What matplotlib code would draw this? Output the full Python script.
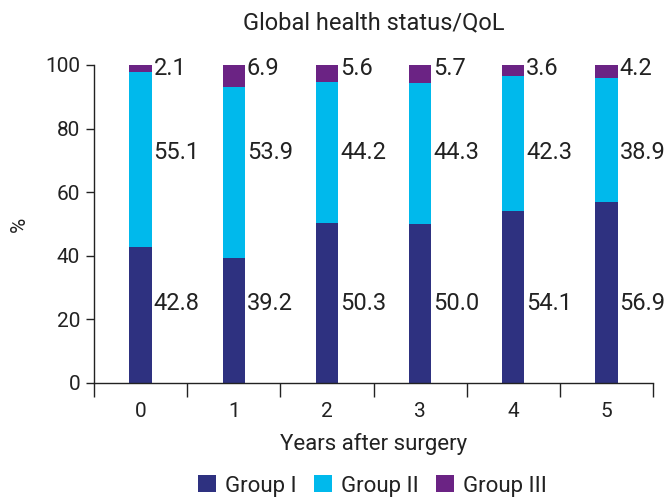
import matplotlib.pyplot as plt
import numpy as np
from matplotlib.ticker import FixedLocator

years = ['0', '1', '2', '3', '4', '5']
group_1 = [42.8, 39.2, 50.3, 50.0, 54.1, 56.9]
group_2 = [55.1, 53.9, 44.2, 44.3, 42.3, 38.9]
group_3 = [2.1, 6.9, 5.6, 5.7, 3.6, 4.2]
group_names = ['Group I', 'Group II', 'Group III']

COLORS = ['#2e3180', '#00b9ec', '#6b2384']
TEXT = '#222222'
LABEL_Y = [25, 72.5, 99]  # label heights, fixed like in the original

plt.rcParams['font.family'] = ['Roboto', 'DejaVu Sans']

fig = plt.figure(figsize=(6.65, 4.98), dpi=100)
ax = fig.add_axes([0.1414, 0.231, 0.8406, 0.6385])

x = np.arange(len(years))
width = 0.24
bottom = np.zeros(len(years))
for vals, color, name, ly in zip([group_1, group_2, group_3], COLORS, group_names, LABEL_Y):
    ax.bar(x, vals, width, bottom=bottom, color=color, label=name)
    for xi, v in zip(x, vals):
        ax.text(xi + width / 2 + 0.02, ly, f'{v:.1f}', ha='left', va='center',
                fontsize=17, color=TEXT, clip_on=False)
    bottom += np.array(vals)

ax.set_xlim(-0.5, len(years) - 0.5)
ax.set_ylim(0, 100)
ax.set_yticks([0, 20, 40, 60, 80, 100])
ax.tick_params(axis='y', labelsize=15, colors=TEXT, length=6, width=1, pad=4)

# category boundaries get the tick marks, labels sit in between
ax.xaxis.set_major_locator(FixedLocator(np.arange(-0.5, len(years), 1.0)))
ax.xaxis.set_minor_locator(FixedLocator(x))
ax.set_xticklabels([])
ax.set_xticklabels(years, minor=True)
ax.tick_params(axis='x', which='major', length=10, width=1, colors=TEXT)
ax.tick_params(axis='x', which='minor', length=0, labelsize=15, labelcolor=TEXT, pad=14)

for s in ['top', 'right']:
    ax.spines[s].set_visible(False)
for s in ['left', 'bottom']:
    ax.spines[s].set_color(TEXT)
    ax.spines[s].set_linewidth(1)

ax.set_xlabel('Years after surgery', fontsize=16, color=TEXT, labelpad=8)
ax.set_ylabel('%', fontsize=15, color=TEXT, labelpad=12)
ax.set_title('Global health status/QoL', fontsize=17, color=TEXT, pad=26)

handles, labels = ax.get_legend_handles_labels()
fig.legend(handles, labels, loc='center', bbox_to_anchor=(0.56, 0.024), ncol=3, frameon=False,
           fontsize=16, handlelength=0.8, handleheight=0.8, handletextpad=0.4,
           columnspacing=0.8, labelcolor=TEXT)

fig.savefig('out.png', dpi=100)
